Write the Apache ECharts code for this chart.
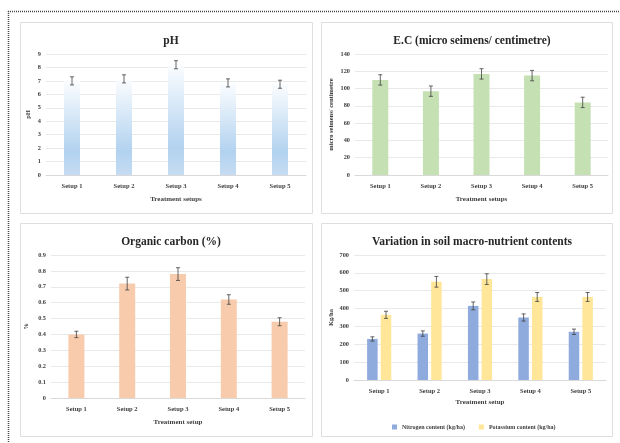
<!DOCTYPE html>
<html><head><meta charset="utf-8">
<script src="https://cdn.jsdelivr.net/npm/echarts@6/dist/echarts.min.js"></script>
<style>html,body{margin:0;padding:0;background:#fff}#c{width:620px;height:443px}</style>
</head><body><div id="c"></div>
<script>
const categories = ['Setup 1', 'Setup 2', 'Setup 3', 'Setup 4', 'Setup 5'];
const phValues = [7.0, 7.15, 8.2, 6.85, 6.75];
const phErr = [0.3, 0.3, 0.3, 0.3, 0.3];
const ecValues = [110, 97, 117, 115, 84];
const ecErr = [6, 6, 6, 6, 6];
const ocValues = [0.40, 0.72, 0.78, 0.62, 0.48];
const ocErr = [0.02, 0.04, 0.04, 0.03, 0.025];
const nValues = [230, 260, 415, 350, 270];
const nErr = [12, 15, 22, 20, 15];
const kValues = [365, 550, 565, 465, 465];
const kErr = [20, 30, 30, 25, 25];

const FONT = '"Liberation Serif", "Times New Roman", serif';
const chart = echarts.init(document.getElementById('c'), null, {renderer: 'canvas'});

function errSeries(values, errs, gridIdx, offset) {
  return {
    type: 'custom', xAxisIndex: gridIdx, yAxisIndex: gridIdx, z: 5,
    data: categories.map((c, i) => [i, values[i], errs[i]]),
    encode: {x: 0, y: 1},
    renderItem: function (params, api) {
      const i = api.value(0), v = api.value(1), e = api.value(2);
      const t = api.coord([i, v + e]);
      const b = api.coord([i, v - e]);
      const x = t[0] + offset;
      const st = {stroke: '#404040', lineWidth: 0.8};
      return {type: 'group', children: [
        {type: 'line', shape: {x1: x, y1: t[1], x2: x, y2: b[1]}, style: st},
        {type: 'line', shape: {x1: x - 2, y1: t[1], x2: x + 2, y2: t[1]}, style: st},
        {type: 'line', shape: {x1: x - 2, y1: b[1], x2: x + 2, y2: b[1]}, style: st}
      ]};
    }
  };
}

function xAxis(gridIdx, name, gap) {
  return {
    type: 'category', gridIndex: gridIdx, data: categories,
    axisLine: {lineStyle: {color: '#d9d9d9'}}, axisTick: {show: false},
    axisLabel: {fontFamily: FONT, fontWeight: 'bold', fontSize: 6.5, color: '#404040', margin: 8},
    name: name, nameLocation: 'middle', nameGap: gap,
    nameTextStyle: {fontFamily: FONT, fontWeight: 'bold', fontSize: 7, color: '#404040'}
  };
}
function yAxis(gridIdx, max, interval, name, gap) {
  return {
    type: 'value', gridIndex: gridIdx, min: 0, max: max, interval: interval,
    axisLine: {show: false}, axisTick: {show: false},
    splitLine: {lineStyle: {color: '#e3e3e3', width: 0.8}},
    axisLabel: {fontFamily: FONT, fontWeight: 'bold', fontSize: 6.3, color: '#404040', margin: 5},
    name: name, nameLocation: 'middle', nameGap: gap, nameRotate: 90,
    nameTextStyle: {fontFamily: FONT, fontWeight: 'bold', fontSize: 6.5, color: '#404040'}
  };
}
const titleStyle = {fontFamily: FONT, fontWeight: 'bold', fontSize: 11.5, color: '#262626'};

const panel = (x, y, w, h) => ({type: 'rect', shape: {x: x, y: y, width: w, height: h},
  style: {fill: 'none', stroke: '#dedede', lineWidth: 1}, silent: true, z: -1});

const option = {
  animation: false,
  backgroundColor: '#fff',
  graphic: [
    {type: 'line', shape: {x1: 8.5, y1: 11, x2: 8.5, y2: 443}, style: {stroke: '#444', lineWidth: 1.5, lineDash: [1, 1]}},
    {type: 'line', shape: {x1: 8, y1: 11.5, x2: 620, y2: 11.5}, style: {stroke: '#444', lineWidth: 1.5, lineDash: [1, 1]}},
    panel(20.5, 22.5, 292, 191),
    panel(321.5, 22.5, 291, 191),
    panel(20.5, 223.5, 292, 213),
    panel(321.5, 223.5, 291, 213)
  ],
  title: [
    {text: 'pH', left: 166, top: 30, textAlign: 'center', textStyle: titleStyle},
    {text: 'E.C (micro seimens/ centimetre)', left: 467, top: 30, textAlign: 'center', textStyle: titleStyle},
    {text: 'Organic carbon (%)', left: 166, top: 231, textAlign: 'center', textStyle: titleStyle},
    {text: 'Variation in soil macro-nutrient contents', left: 467, top: 231, textAlign: 'center', textStyle: titleStyle}
  ],
  grid: [
    {left: 46, width: 260, top: 54, height: 121},
    {left: 355, width: 253, top: 54, height: 121},
    {left: 51, width: 254, top: 255, height: 143},
    {left: 354, width: 252, top: 255, height: 125}
  ],
  xAxis: [
    xAxis(0, 'Treatment setups', 21),
    xAxis(1, 'Treatment setups', 21),
    xAxis(2, 'Treatment setup', 21),
    xAxis(3, 'Treatment setup', 19)
  ],
  yAxis: [
    yAxis(0, 9, 1, 'pH', 14),
    yAxis(1, 140, 20, 'micro seimens/ centimetre', 20),
    yAxis(2, 0.9, 0.1, '%', 21),
    yAxis(3, 700, 100, 'Kg/ha', 19)
  ],
  legend: {
    top: 419, left: 387, itemWidth: 5, itemHeight: 5, itemGap: 14,
    icon: 'rect',
    textStyle: {fontFamily: FONT, fontWeight: 'bold', fontSize: 6, color: '#404040'},
    data: ['Nitrogen content (kg/ha)', 'Potassium content (kg/ha)']
  },
  series: [
    {type: 'bar', xAxisIndex: 0, yAxisIndex: 0, data: phValues, barWidth: 16,
     itemStyle: {color: new echarts.graphic.LinearGradient(0, 0, 0, 1, [
       {offset: 0, color: '#fbfdff'}, {offset: 0.75, color: '#b2d2ef'}, {offset: 1, color: '#c6dcf2'}])}},
    errSeries(phValues, phErr, 0, 0),
    {type: 'bar', xAxisIndex: 1, yAxisIndex: 1, data: ecValues, barWidth: 16, itemStyle: {color: '#c5e0b3'}},
    errSeries(ecValues, ecErr, 1, 0),
    {type: 'bar', xAxisIndex: 2, yAxisIndex: 2, data: ocValues, barWidth: 16, itemStyle: {color: '#f8cbad'}},
    errSeries(ocValues, ocErr, 2, 0),
    {type: 'bar', name: 'Nitrogen content (kg/ha)', xAxisIndex: 3, yAxisIndex: 3, data: nValues, barWidth: 10.5, barGap: '30%', itemStyle: {color: '#8faadc'}},
    {type: 'bar', name: 'Potassium content (kg/ha)', xAxisIndex: 3, yAxisIndex: 3, data: kValues, barWidth: 10.5, barGap: '30%', itemStyle: {color: '#ffe699'}},
    errSeries(nValues, nErr, 3, -6.8),
    errSeries(kValues, kErr, 3, 6.8)
  ]
};
chart.setOption(option);
</script>
</body></html>
